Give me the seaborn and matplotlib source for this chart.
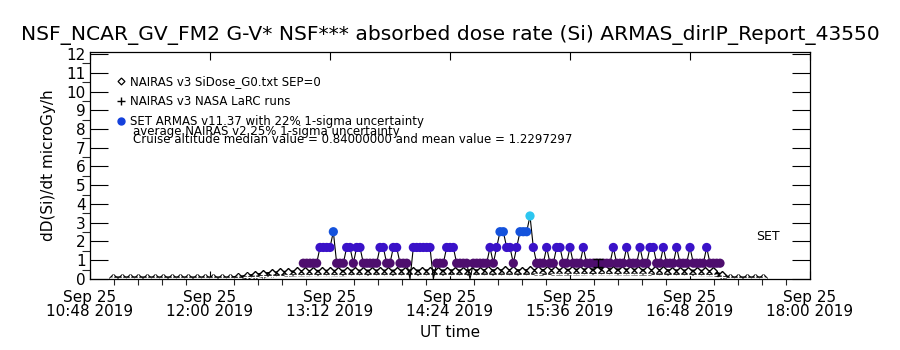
import pandas as pd
import numpy as np
import matplotlib
matplotlib.use("Agg")
import matplotlib.pyplot as plt
import matplotlib.dates as mdates
from matplotlib.ticker import AutoMinorLocator, MultipleLocator, FixedLocator, FuncFormatter
from matplotlib.lines import Line2D
import seaborn as sns

title = "NSF_NCAR_GV_FM2 G-V* NSF*** absorbed dose rate (Si) ARMAS_dirIP_Report_43550"

# ARMAS (SET) dose rate, one value every 2 min from 12:56 UT
armas_start = "2019-09-25 12:56"
armas_step = "2min"
armas_dose = [
    0.84, 0.84, 0.84, 0.84, 0.84, 1.68, 1.68, 1.68, 1.68, 2.52,
    0.84, 0.84, 0.84, 1.68, 1.68, 0.84, 1.68, 1.68, 0.84, 0.84,
    0.84, 0.84, 0.84, 1.68, 1.68, 0.84, 0.84, 1.68, 1.68, 0.84,
    0.84, 0.84, 0.00, 1.68, 1.68, 1.68, 1.68, 1.68, 1.68, 0.00,
    0.84, 0.84, 0.84, 1.68, 1.68, 1.68, 0.84, 0.84, 0.84, 0.84,
    0.00, 0.84, 0.84, 0.84, 0.84, 0.84, 1.68, 0.84, 1.68, 2.52,
    2.52, 1.68, 1.68, 0.84, 1.68, 2.52, 2.52, 2.52, 3.36, 1.68,
    0.84, 0.84, 0.84, 1.68, 0.84, 0.84, 1.68, 1.68, 0.84, 0.84,
    1.68, 0.84, 0.84, 0.84, 1.68, 0.84, 0.84, 0.84, 0.84, 0.84,
    0.84, 0.84, 0.84, 1.68, 0.84, 0.84, 0.84, 1.68, 0.84, 0.84,
    0.84, 1.68, 0.84, 0.84, 1.68, 1.68, 0.84, 0.84, 1.68, 0.84,
    0.84, 0.84, 1.68, 0.84, 0.84, 0.84, 1.68, 0.84, 0.84, 0.84,
    0.84, 1.68, 0.84, 0.84, 0.84, 0.84,
]

# NAIRAS v3 model runs, one value every 5 min from 11:02 UT
nairas_start = "2019-09-25 11:02"
nairas_step = "5min"
nairas_g0 = [
    0.07, 0.07, 0.07, 0.07, 0.07, 0.07, 0.07, 0.07, 0.07, 0.07,
    0.07, 0.07, 0.07, 0.07, 0.07, 0.10, 0.16, 0.22, 0.28, 0.32,
    0.35, 0.38, 0.40, 0.41, 0.42, 0.42, 0.43, 0.42, 0.43, 0.44,
    0.43, 0.44, 0.44, 0.43, 0.44, 0.45, 0.44, 0.44, 0.45, 0.44,
    0.45, 0.45, 0.44, 0.45, 0.45, 0.46, 0.45, 0.46, 0.46, 0.45,
    0.46, 0.47, 0.46, 0.47, 0.48, 0.48, 0.49, 0.50, 0.50, 0.51,
    0.50, 0.50, 0.49, 0.48, 0.47, 0.46, 0.46, 0.45, 0.44, 0.44,
    0.43, 0.42, 0.40, 0.22, 0.07, 0.07, 0.07, 0.07, 0.07,
]
nairas_larc = [
    0.04, 0.04, 0.04, 0.04, 0.04, 0.04, 0.04, 0.04, 0.04, 0.04,
    0.04, 0.04, 0.04, 0.04, 0.04, 0.06, 0.09, 0.12, 0.15, 0.17,
    0.18, 0.19, 0.20, 0.20, 0.21, 0.21, 0.21, 0.20, 0.21, 0.22,
    0.21, 0.22, 0.22, 0.21, 0.22, 0.22, 0.22, 0.21, 0.22, 0.22,
    0.22, 0.23, 0.22, 0.22, 0.23, 0.23, 0.22, 0.23, 0.23, 0.23,
    0.23, 0.24, 0.23, 0.24, 0.24, 0.25, 0.25, 0.26, 0.26, 0.26,
    0.26, 0.25, 0.25, 0.24, 0.24, 0.23, 0.23, 0.22, 0.22, 0.22,
    0.21, 0.21, 0.20, 0.12, 0.04, 0.04, 0.04, 0.04, 0.04,
]

# average uncertainty marker
uncert_time = ["2019-09-25 15:53"]
uncert_value = [0.84]
uncert_err = [0.21]

level_colors = {0.84: "#4E0E6E", 1.68: "#3A12C8", 2.52: "#1452DC", 3.36: "#2CC6F0"}

x_start = pd.Timestamp("2019-09-25 10:48")
x_end = pd.Timestamp("2019-09-25 18:00")
tick_times = pd.date_range(x_start, x_end, freq="72min")

armas = pd.DataFrame({
    "time": pd.date_range(armas_start, periods=len(armas_dose), freq=armas_step),
    "dose": armas_dose,
})
nairas = pd.DataFrame({
    "time": pd.date_range(nairas_start, periods=len(nairas_g0), freq=nairas_step),
    "g0": nairas_g0,
    "larc": nairas_larc,
})

sns.set_style("ticks")
plt.rcParams["font.family"] = ["DejaVu Sans"]
plt.rcParams["text.color"] = "black"
plt.rcParams["axes.labelcolor"] = "black"

fig = plt.figure(figsize=(9, 3.5), dpi=100)
ax = fig.add_axes([0.1, 0.203, 0.8, 0.648])

# NAIRAS curves
sns.lineplot(data=nairas, x="time", y="g0", ax=ax, color="black", lw=1.8,
             marker="D", markersize=4.5, markerfacecolor="white",
             markeredgecolor="black", markeredgewidth=1.0, zorder=2)
sns.lineplot(data=nairas, x="time", y="larc", ax=ax, color="black", lw=1.6,
             marker="+", markersize=6, markeredgewidth=1.0, zorder=2)

# ARMAS line + coloured markers
sns.lineplot(data=armas, x="time", y="dose", ax=ax, color="black", lw=0.8,
             sort=False, zorder=3)
sns.scatterplot(data=armas[armas["dose"] > 0], x="time", y="dose", hue="dose",
                palette=level_colors, s=44, linewidth=0, legend=False, ax=ax,
                zorder=4)

ax.errorbar(pd.to_datetime(uncert_time), uncert_value, yerr=uncert_err,
            fmt="none", ecolor="black", elinewidth=1, capsize=3.5, zorder=5)

ax.set_xlim(x_start, x_end)
ax.set_ylim(0, 12.1)

ax.xaxis.set_major_locator(FixedLocator(mdates.date2num(tick_times)))
ax.xaxis.set_major_formatter(FuncFormatter(
    lambda v, p: mdates.num2date(v).strftime("%b %d\n%H:%M %Y")))
ax.xaxis.set_minor_locator(AutoMinorLocator(5))
ax.yaxis.set_major_locator(MultipleLocator(1))
ax.yaxis.set_minor_locator(AutoMinorLocator(2))

ax.tick_params(axis="both", direction="in", top=True, right=True,
               colors="black", labelcolor="black")
ax.tick_params(axis="x", which="major", length=6, width=0.8, pad=8, labelsize=11)
ax.tick_params(axis="x", which="minor", length=4, width=0.8)
ax.tick_params(axis="y", which="major", length=13, width=0.8, pad=3, labelsize=11)
ax.tick_params(axis="y", which="minor", length=6, width=0.8)
for lab in ax.get_xticklabels():
    lab.set_linespacing(0.95)
for sp in ax.spines.values():
    sp.set_linewidth(0.9)
    sp.set_color("black")

ax.set_title(title, fontsize=14.6, pad=9, color="black")
ax.set_xlabel("UT time", fontsize=11)
ax.set_ylabel("dD(Si)/dt microGy/h", fontsize=11)
ax.xaxis.set_label_coords(0.5, -0.205)
ax.yaxis.set_label_coords(-0.047, 0.5)

handles = [
    Line2D([], [], ls="none", marker="D", markersize=3.5, markerfacecolor="white",
           markeredgecolor="black", markeredgewidth=0.9),
    Line2D([], [], ls="none", marker="+", markersize=6, color="black",
           markeredgewidth=1.0),
    Line2D([], [], ls="none", marker="o", markersize=5, color="#1440DC"),
]
labels = ["NAIRAS v3 SiDose_G0.txt SEP=0", "NAIRAS v3 NASA LaRC runs",
          "SET ARMAS v11.37 with 22% 1-sigma uncertainty"]
ax.legend(handles, labels, loc="upper left", bbox_to_anchor=(0.036, 0.9),
          frameon=False, fontsize=8.5, handlelength=0.8, handletextpad=0.4,
          labelspacing=0.6, borderpad=0, borderaxespad=0)
ax.text(0.06, 0.648, "average NAIRAS v2 25% 1-sigma uncertainty",
        transform=ax.transAxes, fontsize=8.5, va="center", ha="left")
ax.text(0.06, 0.617, "Cruise altitude median value = 0.84000000 and mean value = 1.2297297",
        transform=ax.transAxes, fontsize=8.5, va="center", ha="left")
ax.text(0.942, 0.185, "SET", transform=ax.transAxes, fontsize=9,
        va="center", ha="center")

fig.savefig("out.png", dpi=100)
